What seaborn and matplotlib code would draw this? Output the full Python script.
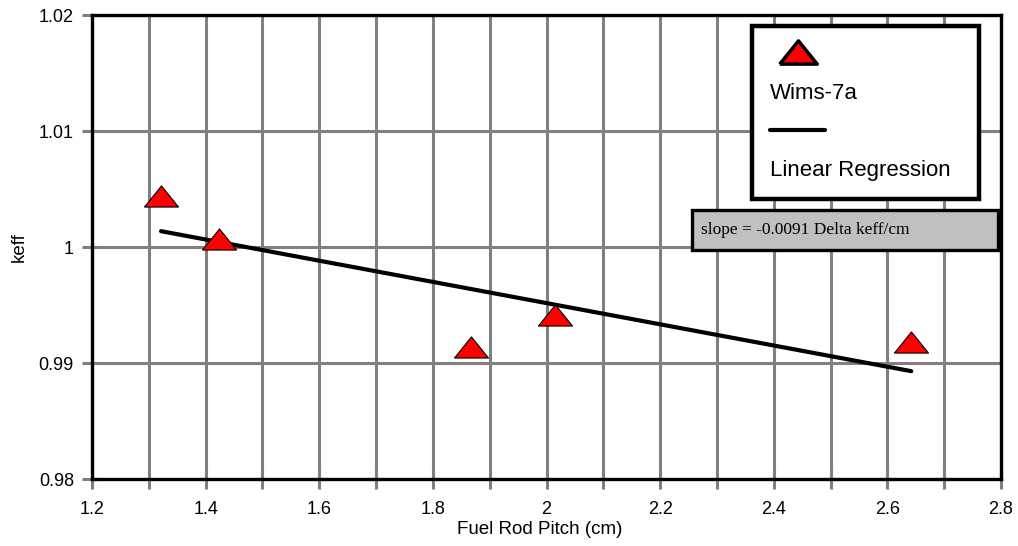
import numpy as np
import pandas as pd
import matplotlib
matplotlib.use("Agg")
import matplotlib.pyplot as plt
from matplotlib.lines import Line2D
from matplotlib.patches import Rectangle
from matplotlib.ticker import MultipleLocator, FuncFormatter
import seaborn as sns

# ---- data ----
pitch_cm = [1.3215, 1.4236, 1.867, 2.015, 2.642]
keff = [1.00444, 1.00069, 0.99142, 0.99418, 0.99177]
series_label = "Wims-7a"
fit_label = "Linear Regression"
x_ticks = [1.2, 1.4, 1.6, 1.8, 2.0, 2.2, 2.4, 2.6, 2.8]
y_ticks = [0.98, 0.99, 1.0, 1.01, 1.02]

df = pd.DataFrame({"pitch": pitch_cm, "keff": keff})

sns.set_style("white")
plt.rcParams["font.family"] = ["Liberation Sans", "DejaVu Sans"]
plt.rcParams["text.color"] = "black"
plt.rcParams["axes.labelcolor"] = "black"

fig = plt.figure(figsize=(10.18, 5.46), dpi=100)
ax = fig.add_axes([0.0904, 0.1227, 0.8929, 0.8498])

tri = [(-1.0, -0.62), (1.0, -0.62), (0.0, 0.62), (-1.0, -0.62)]

sns.regplot(data=df, x="pitch", y="keff", scatter=False, ci=None, truncate=True,
            color="black", line_kws={"linewidth": 3.0, "zorder": 3}, ax=ax)
sns.scatterplot(data=df, x="pitch", y="keff", marker=tri, s=600, color="red",
                edgecolor="black", linewidth=0.8, zorder=4, ax=ax, legend=False)

ax.set_xlim(1.2, 2.8)
ax.set_ylim(0.98, 1.02)
ax.xaxis.set_major_locator(MultipleLocator(0.1))
ax.xaxis.set_major_formatter(FuncFormatter(
    lambda v, p: (f"{v:g}" if any(abs(v - t) < 1e-6 for t in x_ticks) else "")))
ax.set_yticks(y_ticks)
ax.yaxis.set_major_formatter(FuncFormatter(lambda v, p: f"{v:g}"))

ax.grid(True, color="#808080", linewidth=2.2, zorder=0)
ax.set_axisbelow(True)
for s in ax.spines.values():
    s.set_visible(True)
    s.set_color("black")
    s.set_linewidth(2.4)
    s.set_zorder(2.5)

ax.tick_params(axis="both", which="major", bottom=True, left=True,
               direction="inout", length=14, width=2.2, color="#808080",
               labelcolor="black", labelsize=13)
ax.tick_params(axis="y", pad=6)
ax.tick_params(axis="x", pad=9)

ax.set_xlabel("Fuel Rod Pitch (cm)", fontsize=13.5, labelpad=1)
ax.xaxis.set_label_coords(0.492, -0.090)
ax.set_ylabel("keff", fontsize=13.5, labelpad=8)

# slope annotation
slope, intercept = np.polyfit(pitch_cm, keff, 1)
ax.add_patch(Rectangle((0.660, 0.4935), 0.3367, 0.0862, transform=ax.transAxes,
                       facecolor="#c0c0c0", edgecolor="black", linewidth=2.4, zorder=5))
ax.text(0.670, 0.5366, f"slope = {slope:.4f} Delta keff/cm", transform=ax.transAxes,
        ha="left", va="center", fontsize=12.5, family=["Liberation Serif", "DejaVu Serif"],
        zorder=6)

# legend: handle above each label
h_marker = Line2D([], [], linestyle="none", marker=tri, markersize=27,
                  markerfacecolor="red", markeredgecolor="black", markeredgewidth=2.5)
h_line = Line2D([], [], color="black", linewidth=3)
h_blank = Line2D([], [], linestyle="none")
leg = ax.legend([h_marker, h_blank, h_line, h_blank], [" ", series_label, " ", fit_label],
                loc="upper left", bbox_to_anchor=(0.7261, 0.55, 0.2497, 0.4263),
                mode="expand", fontsize=16,
                handlelength=2.5, handletextpad=-2.5, labelspacing=0.8,
                borderpad=0.8, borderaxespad=0, fancybox=False, framealpha=1,
                edgecolor="black")
leg.get_frame().set_linewidth(3.2)
leg.set_zorder(6)

fig.savefig("out.png", dpi=100)
